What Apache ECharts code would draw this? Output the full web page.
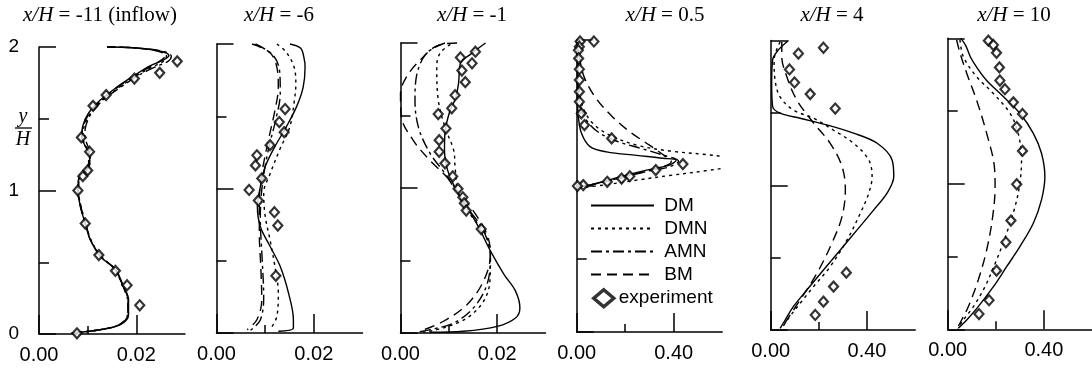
<!DOCTYPE html>
<html>
<head>
<meta charset="utf-8">
<script src="https://cdn.jsdelivr.net/npm/echarts@6/dist/echarts.min.js"></script>
<style>
  html, body { margin: 0; padding: 0; background: #fff; }
  #chart { width: 1092px; height: 370px; }
</style>
</head>
<body>
<div id="chart"></div>
<script>
// profiles: [value, y/H] pairs

// x/H = -11 (inflow)
const p1DM  = [[0.0067,0.007],[0.0126,0.03],[0.0167,0.065],[0.0184,0.135],[0.0184,0.24],[0.0174,0.33],[0.0157,0.45],[0.0126,0.54],[0.0105,0.66],[0.0095,0.77],[0.0085,0.89],[0.008,1.0],[0.0083,1.1],[0.0095,1.13],[0.0104,1.18],[0.0104,1.26],[0.0095,1.31],[0.0088,1.37],[0.009,1.45],[0.0102,1.54],[0.0126,1.63],[0.016,1.72],[0.0195,1.8],[0.0229,1.87],[0.0256,1.91],[0.0267,1.94],[0.025,1.97],[0.0195,1.995],[0.014,2.0]];
const p1DMN = [[0.0068,0.007],[0.0128,0.032],[0.0168,0.07],[0.0183,0.14],[0.0182,0.24],[0.0172,0.33],[0.0156,0.45],[0.0127,0.545],[0.0106,0.66],[0.0096,0.77],[0.0086,0.89],[0.0081,1.0],[0.0084,1.1],[0.0096,1.135],[0.0104,1.19],[0.0103,1.26],[0.0096,1.31],[0.009,1.37],[0.0093,1.45],[0.0106,1.54],[0.013,1.63],[0.0165,1.72],[0.02,1.8],[0.0232,1.86],[0.0258,1.905],[0.0262,1.94],[0.024,1.975],[0.019,1.995],[0.014,2.0]];
const p1AMN = [[0.0067,0.007],[0.0126,0.03],[0.0165,0.065],[0.0182,0.135],[0.0183,0.24],[0.0173,0.33],[0.0157,0.45],[0.0127,0.54],[0.0106,0.66],[0.0096,0.77],[0.0086,0.89],[0.0081,1.0],[0.0085,1.1],[0.0097,1.14],[0.0105,1.2],[0.0105,1.27],[0.0099,1.32],[0.0094,1.38],[0.0097,1.46],[0.011,1.55],[0.0135,1.64],[0.0168,1.72],[0.0203,1.8],[0.0238,1.86],[0.0265,1.9],[0.0272,1.935],[0.0255,1.97],[0.0195,1.995],[0.014,2.0]];
const p1BM  = [[0.0068,0.007],[0.0125,0.03],[0.0166,0.066],[0.0183,0.135],[0.0183,0.24],[0.0173,0.33],[0.0156,0.45],[0.0126,0.545],[0.0105,0.66],[0.0095,0.77],[0.0085,0.89],[0.008,1.0],[0.0083,1.1],[0.0094,1.135],[0.0102,1.19],[0.0102,1.26],[0.0094,1.315],[0.0088,1.37],[0.0091,1.45],[0.0104,1.54],[0.0128,1.63],[0.0162,1.72],[0.0197,1.8],[0.023,1.865],[0.0252,1.91],[0.026,1.94],[0.0245,1.97],[0.0193,1.995],[0.014,2.0]];
const p1Exp = [[0.0284,1.90],[0.0248,1.82],[0.0196,1.78],[0.0138,1.665],[0.0111,1.59],[0.0087,1.37],[0.0104,1.27],[0.01,1.14],[0.009,1.10],[0.008,1.0],[0.0095,0.77],[0.0123,0.55],[0.0157,0.44],[0.0181,0.34],[0.0207,0.2],[0.0078,0.005]];

// x/H = -6
const p2DM  = [[0.0151,2.0],[0.0173,1.97],[0.018,1.9],[0.0182,1.84],[0.0178,1.70],[0.0165,1.57],[0.0144,1.43],[0.012,1.29],[0.01,1.15],[0.009,1.01],[0.0084,0.876],[0.009,0.737],[0.011,0.6],[0.0131,0.46],[0.0148,0.276],[0.0158,0.092],[0.0158,0.035],[0.0127,0.012]];
const p2DMN = [[0.0124,2.0],[0.0144,1.94],[0.0161,1.82],[0.0163,1.72],[0.016,1.61],[0.0151,1.43],[0.013,1.27],[0.011,1.1],[0.0097,0.97],[0.01,0.81],[0.011,0.645],[0.012,0.46],[0.0127,0.276],[0.0124,0.115],[0.011,0.023]];
const p2AMN = [[0.008,2.0],[0.0117,1.92],[0.013,1.8],[0.0131,1.66],[0.0122,1.48],[0.0106,1.26],[0.0094,1.02],[0.009,0.8],[0.0094,0.5],[0.0097,0.25],[0.009,0.09],[0.007,0.02]];
const p2BM  = [[0.0073,2.0],[0.011,1.94],[0.0124,1.84],[0.0127,1.70],[0.012,1.54],[0.0107,1.34],[0.0093,1.1],[0.0088,0.92],[0.0088,0.69],[0.0091,0.46],[0.0093,0.23],[0.0083,0.092],[0.0063,0.023]];
const p2Exp = [[0.0141,1.55],[0.0129,1.46],[0.0139,1.39],[0.011,1.30],[0.0083,1.23],[0.008,1.16],[0.0093,1.07],[0.0067,0.99],[0.0086,0.917],[0.0119,0.836],[0.0126,0.744],[0.0122,0.396]];

// x/H = -1
const p3DM  = [[0.0176,2.0],[0.0144,1.92],[0.0124,1.86],[0.012,1.72],[0.0113,1.61],[0.0103,1.54],[0.0092,1.38],[0.0091,1.26],[0.0096,1.14],[0.0106,1.05],[0.012,0.96],[0.0138,0.867],[0.0162,0.728],[0.0186,0.566],[0.0214,0.405],[0.0238,0.289],[0.0247,0.173],[0.0238,0.104],[0.02,0.046],[0.013,0.012],[0.0061,0.005]];
const p3DMN = [[0.0103,1.99],[0.0082,1.93],[0.0075,1.84],[0.0078,1.61],[0.0092,1.42],[0.011,1.26],[0.0113,1.14],[0.012,0.96],[0.0144,0.82],[0.0176,0.68],[0.0186,0.54],[0.0185,0.36],[0.0172,0.22],[0.0138,0.104],[0.0089,0.035],[0.0047,0.005]];
const p3AMN = [[0.0092,2.0],[0.0054,1.93],[0.0033,1.77],[0.003,1.61],[0.0037,1.42],[0.0061,1.24],[0.0092,1.10],[0.0117,0.97],[0.0144,0.84],[0.0172,0.705],[0.0186,0.52],[0.0179,0.335],[0.0151,0.173],[0.011,0.069],[0.0061,0.023],[0.0033,0.005]];
const p3BM  = [[0.0117,2.0],[0.0075,1.98],[0.004,1.88],[0.0013,1.77],[0.0,1.65],[0.0002,1.49],[0.0026,1.33],[0.0061,1.19],[0.0096,1.075],[0.012,0.97],[0.0151,0.84],[0.0179,0.68],[0.0186,0.54],[0.0172,0.36],[0.0138,0.197],[0.0089,0.081],[0.004,0.012]];
const p3Exp = [[0.0155,1.94],[0.0124,1.90],[0.0148,1.86],[0.0127,1.81],[0.0134,1.73],[0.0113,1.64],[0.0106,1.55],[0.0078,1.51],[0.0094,1.41],[0.008,1.33],[0.008,1.25],[0.0092,1.17],[0.0108,1.08],[0.0119,0.994],[0.0129,0.936],[0.0132,0.895],[0.0136,0.844],[0.0167,0.717]];

// x/H = 0.5
const p4DM  = [[0.003,2.0],[0.003,1.59],[0.007,1.47],[0.02,1.36],[0.055,1.27],[0.123,1.234],[0.247,1.21],[0.356,1.19],[0.41,1.177],[0.383,1.143],[0.288,1.109],[0.178,1.063],[0.082,1.017],[0.02,0.994],[0.003,0.98]];
const p4DMN = [[0.003,2.0],[0.005,1.8],[0.008,1.70],[0.02,1.57],[0.055,1.45],[0.123,1.36],[0.247,1.28],[0.383,1.24],[0.534,1.215],[0.62,1.195],[0.65,1.166],[0.62,1.13],[0.534,1.105],[0.383,1.072],[0.247,1.04],[0.11,1.006],[0.027,0.99]];
const p4AMN = [[0.003,2.0],[0.005,1.75],[0.01,1.6],[0.03,1.48],[0.08,1.38],[0.16,1.31],[0.26,1.26],[0.36,1.21],[0.42,1.17],[0.38,1.13],[0.29,1.1],[0.18,1.055],[0.08,1.018],[0.02,0.995]];
const p4BM  = [[0.003,2.0],[0.01,1.9],[0.03,1.75],[0.08,1.6],[0.15,1.47],[0.22,1.37],[0.3,1.28],[0.36,1.21],[0.39,1.166],[0.35,1.128],[0.27,1.095],[0.17,1.05],[0.08,1.015],[0.02,0.995]];
const p4Exp = [[0.071,1.99],[0.014,1.99],[0.011,1.954],[0.007,1.93],[0.008,1.874],[0.011,1.80],[0.011,1.726],[0.011,1.646],[0.011,1.577],[0.019,1.497],[0.032,1.417],[0.144,1.326],[0.438,1.15],[0.326,1.109],[0.219,1.067],[0.185,1.051],[0.126,1.029],[0.027,1.006],[0.003,1.0]];

// x/H = 4
const p5DM  = [[0.074,2.0],[0.032,1.935],[0.008,1.866],[0.004,1.705],[0.008,1.544],[0.039,1.498],[0.122,1.463],[0.233,1.417],[0.344,1.36],[0.442,1.29],[0.504,1.175],[0.511,1.06],[0.483,0.945],[0.428,0.83],[0.358,0.69],[0.289,0.553],[0.219,0.415],[0.15,0.276],[0.094,0.161],[0.06,0.069],[0.039,0.012]];
const p5DMN = [[0.039,1.99],[0.014,1.866],[0.018,1.728],[0.039,1.61],[0.094,1.52],[0.178,1.463],[0.261,1.38],[0.344,1.29],[0.407,1.175],[0.421,1.06],[0.407,0.945],[0.372,0.806],[0.317,0.622],[0.247,0.438],[0.178,0.3],[0.122,0.184],[0.074,0.081],[0.046,0.012]];
const p5BM  = [[0.046,1.99],[0.046,1.89],[0.067,1.75],[0.108,1.59],[0.178,1.43],[0.247,1.29],[0.296,1.13],[0.31,0.968],[0.296,0.783],[0.254,0.6],[0.192,0.392],[0.122,0.207],[0.067,0.069],[0.046,0.012]];
const p5Exp = [[0.219,1.95],[0.115,1.91],[0.078,1.80],[0.099,1.71],[0.164,1.63],[0.268,1.53],[0.314,0.396],[0.261,0.3],[0.219,0.196],[0.185,0.104]];

// x/H = 10
const p6DM  = [[0.055,2.0],[0.075,1.95],[0.095,1.87],[0.125,1.79],[0.162,1.71],[0.231,1.6],[0.3,1.485],[0.356,1.347],[0.39,1.21],[0.404,1.05],[0.39,0.889],[0.356,0.729],[0.3,0.568],[0.245,0.43],[0.19,0.293],[0.127,0.156],[0.079,0.064],[0.044,0.007]];
const p6DMN = [[0.051,1.99],[0.065,1.874],[0.12,1.737],[0.19,1.62],[0.259,1.485],[0.293,1.347],[0.307,1.164],[0.3,1.003],[0.28,0.843],[0.245,0.66],[0.203,0.476],[0.155,0.293],[0.107,0.156],[0.065,0.064],[0.04,0.007]];
const p6BM  = [[0.037,1.99],[0.051,1.9],[0.079,1.76],[0.12,1.576],[0.162,1.347],[0.194,1.118],[0.197,0.98],[0.187,0.774],[0.162,0.545],[0.127,0.339],[0.086,0.156],[0.058,0.064],[0.04,0.007]];
const p6Exp = [[0.169,1.984],[0.19,1.954],[0.203,1.90],[0.215,1.80],[0.217,1.71],[0.238,1.65],[0.273,1.56],[0.311,1.48],[0.287,1.39],[0.311,1.226],[0.287,0.997],[0.263,0.747],[0.242,0.598],[0.203,0.403],[0.172,0.2],[0.13,0.105]];

const titles = ['-11 (inflow)', '-6', '-1', '0.5', '4', '10'];
const yTickLabels = ['0', '1', '2'];

const panels = [
  { title: titles[0], xMax: 0.03, major: 0.02, minor: 0.01, left: 39,  width: 146, top: 47, base: 334, cx: 100,
    DM: p1DM, DMN: p1DMN, AMN: p1AMN, BM: p1BM, exp: p1Exp },
  { title: titles[1], xMax: 0.03, major: 0.02, minor: 0.01, left: 216.5, width: 146, top: 44, base: 333, cx: 279,
    DM: p2DM, DMN: p2DMN, AMN: p2AMN, BM: p2BM, exp: p2Exp },
  { title: titles[2], xMax: 0.03, major: 0.02, minor: 0.01, left: 400.5, width: 145, top: 43, base: 333, cx: 472,
    DM: p3DM, DMN: p3DMN, AMN: p3AMN, BM: p3BM, exp: p3Exp },
  { title: titles[3], xMax: 0.6, major: 0.4, minor: 0.2, left: 576.7, width: 145.5, top: 40, base: 332, cx: 665,
    DM: p4DM, DMN: p4DMN, AMN: p4AMN, BM: p4BM, exp: p4Exp },
  { title: titles[4], xMax: 0.6, major: 0.4, minor: 0.2, left: 770.7, width: 144.5, top: 40.5, base: 330, cx: 832,
    DM: p5DM, DMN: p5DMN, AMN: null, BM: p5BM, exp: p5Exp },
  { title: titles[5], xMax: 0.6, major: 0.4, minor: 0.2, left: 947.7, width: 144.3, top: 38.3, base: 329.3, cx: 1014,
    DM: p6DM, DMN: p6DMN, AMN: null, BM: p6BM, exp: p6Exp }
];

const INK = '#000';
const SANS = 'Liberation Sans, Arial, sans-serif';
const SERIF = 'Liberation Serif, Times New Roman, serif';

const lineKinds = [
  { key: 'DM',  name: 'DM',  type: 'solid' },
  { key: 'DMN', name: 'DMN', type: [3, 4] },
  { key: 'AMN', name: 'AMN', type: [11, 4, 3, 4] },
  { key: 'BM',  name: 'BM',  type: [10, 6] }
];

const chart = echarts.init(document.getElementById('chart'), null, { renderer: 'canvas' });

const grid = [], xAxis = [], yAxis = [], series = [], graphic = [];

panels.forEach((p, i) => {
  grid.push({ left: p.left, top: p.top, width: p.width, height: p.base - p.top });

  // main x axis: line, long ticks, labels
  xAxis.push({
    type: 'value', gridIndex: i, position: 'bottom', min: 0, max: p.xMax,
    axisLine: { show: true, lineStyle: { color: INK, width: 1.5 } },
    axisTick: { show: true, inside: true, length: 19, customValues: [0, p.major], lineStyle: { color: INK, width: 1.5 } },
    axisLabel: { show: true, customValues: [0, p.major], margin: 11, color: INK, fontSize: 20, fontFamily: SANS,
      formatter: v => v.toFixed(2) },
    splitLine: { show: false }
  });
  // second x axis only for the short tick
  xAxis.push({
    type: 'value', gridIndex: i, position: 'bottom', min: 0, max: p.xMax,
    axisLine: { show: false },
    axisTick: { show: true, inside: true, length: 8, customValues: [p.minor], lineStyle: { color: INK, width: 1.5 } },
    axisLabel: { show: false },
    splitLine: { show: false }
  });

  yAxis.push({
    type: 'value', gridIndex: i, min: 0, max: 2, interval: 1,
    axisLine: { show: true, lineStyle: { color: INK, width: 1.5 } },
    axisTick: { show: true, inside: true, length: 17, lineStyle: { color: INK, width: 1.5 } },
    minorTick: { show: true, splitNumber: 2, length: 10, lineStyle: { color: INK, width: 1.5 } },
    axisLabel: { show: i === 0, margin: 20, color: INK, fontSize: 19, fontFamily: SANS,
      formatter: v => yTickLabels[Math.round(v)] },
    splitLine: { show: false }
  });

  lineKinds.forEach(k => {
    if (!p[k.key]) return;
    series.push({
      name: k.name, type: 'line', xAxisIndex: i * 2, yAxisIndex: i,
      data: p[k.key], smooth: 0.35, symbol: 'none', showSymbol: false, clip: false,
      lineStyle: { color: INK, width: 1.4, type: k.type }, itemStyle: { color: INK },
      silent: true, z: 2
    });
  });

  series.push({
    name: 'experiment', type: 'scatter', xAxisIndex: i * 2, yAxisIndex: i,
    data: p.exp, symbol: 'diamond', symbolSize: [9, 10], clip: false,
    itemStyle: { color: '#fff', borderColor: INK, borderWidth: 2.2 },
    silent: true, z: 3
  });

  graphic.push({
    type: 'text', x: 0, y: 0, silent: true,
    style: {
      text: '{i|x/H} = ' + p.title,
      x: p.cx, y: 15, align: 'center', verticalAlign: 'middle',
      fill: INK, font: '21px ' + SERIF,
      rich: { i: { fontStyle: 'italic', fontSize: 21, fontFamily: SERIF, fill: INK } }
    }
  });
});

// y/H axis label of the first panel
graphic.push(
  { type: 'text', silent: true, style: { text: 'y', x: 23, y: 117, align: 'center', verticalAlign: 'middle', fill: INK, font: 'italic 20px ' + SERIF } },
  { type: 'line', silent: true, shape: { x1: 15, y1: 128, x2: 32, y2: 128 }, style: { stroke: INK, lineWidth: 1.3 } },
  { type: 'text', silent: true, style: { text: 'H', x: 23, y: 140, align: 'center', verticalAlign: 'middle', fill: INK, font: 'italic 20px ' + SERIF } }
);

chart.setOption({
  animation: false,
  backgroundColor: '#fff',
  grid, xAxis, yAxis, series, graphic,
  legend: [
    {
      data: ['DM', 'DMN', 'AMN', 'BM'], orient: 'vertical', left: 590, top: 196, padding: 0,
      itemWidth: 63, itemHeight: 12, itemGap: 4, selectedMode: false,
      itemStyle: { opacity: 0 },
      formatter: n => ' ' + n,
      textStyle: { color: INK, fontSize: 19, lineHeight: 16, fontFamily: SANS }
    },
    {
      data: ['experiment'], orient: 'vertical', left: 592, top: 288, padding: 0,
      itemWidth: 20, itemHeight: 17, selectedMode: false,
      itemStyle: { color: '#fff', borderColor: INK, borderWidth: 3.5 },
      textStyle: { color: INK, fontSize: 19, lineHeight: 17, fontFamily: SANS }
    }
  ]
});
</script>
</body>
</html>
